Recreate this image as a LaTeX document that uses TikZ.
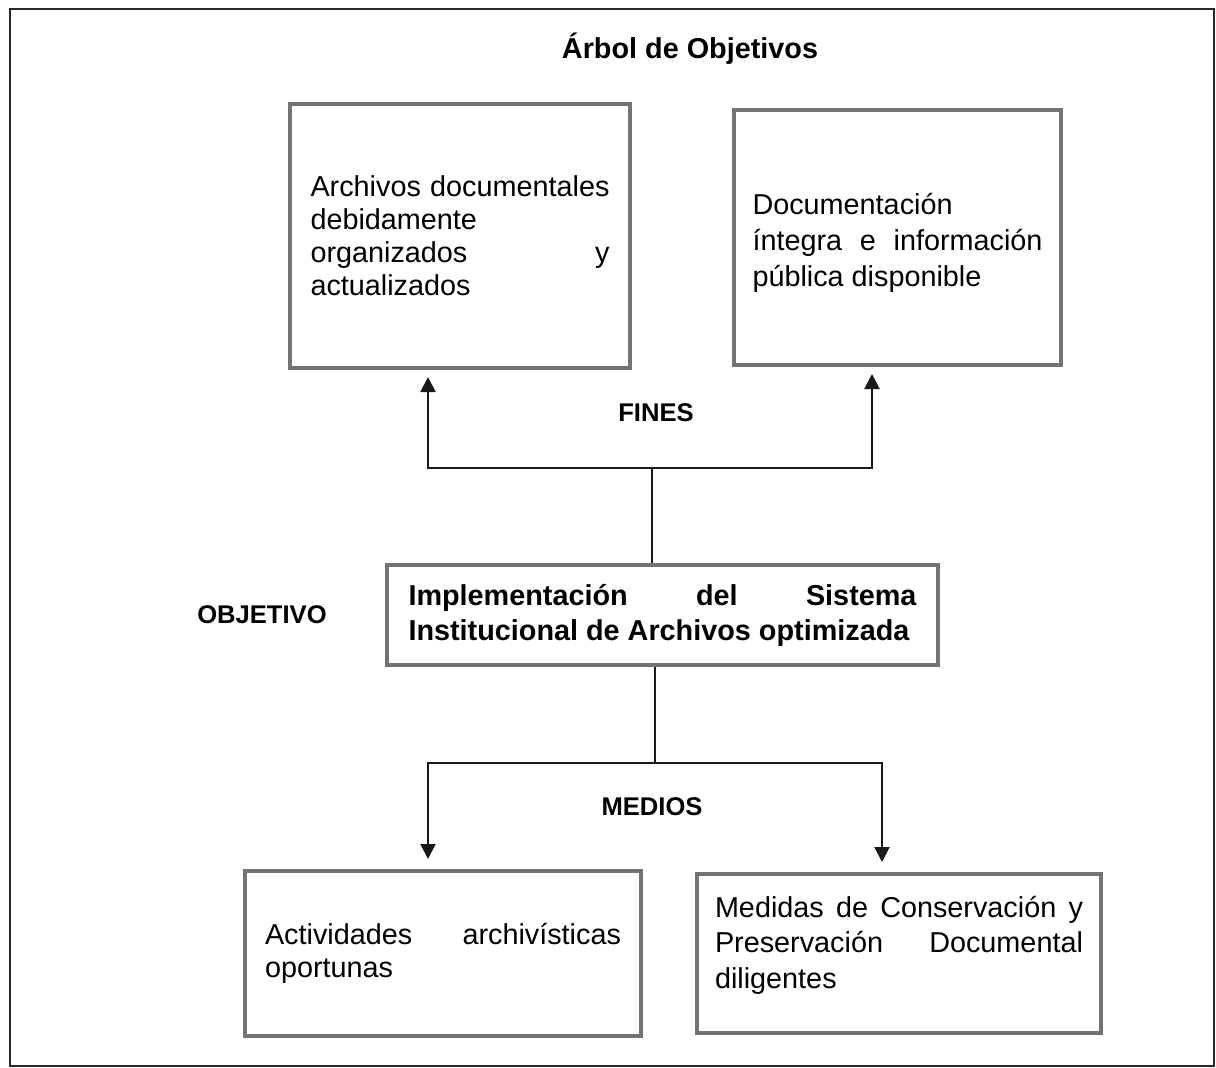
\documentclass[tikz,border=0pt]{standalone}
\usepackage{fontspec}
\setmainfont{Liberation Sans}
\usetikzlibrary{arrows.meta}
\hyphenpenalty=10000
\exhyphenpenalty=10000
\definecolor{boxgray}{RGB}{115,115,115}
\definecolor{framegray}{RGB}{40,40,40}
\tikzset{
  box/.style={draw=boxgray, line width=4pt, inner sep=0pt, align=justify,
    font=\fontsize{28.8}{33}\selectfont},
  conn/.style={draw=black!90, line width=2pt},
  arr/.style={conn, -{Triangle[length=15pt, width=15pt]}},
  lbl/.style={font=\bfseries\fontsize{25.6}{30}\selectfont, inner sep=0pt, anchor=base},
}
\begin{document}
\begin{tikzpicture}[x=1pt, y=-1pt]
\useasboundingbox (0,0) rectangle (1216,1068);
\draw[draw=framegray, line width=2pt] (10,9) rectangle (1214,1066);

\node[lbl, font=\bfseries\fontsize{28.8}{33}\selectfont] (title) at (690,58) {Árbol de Objetivos};

\node[box, minimum width=340pt, minimum height=264pt, text width=299pt] (A) at (460,236)
  {Archivos documentales\linebreak debidamente\\ organizados y\linebreak actualizados};
\node[box, minimum width=327pt, minimum height=255pt, text width=290pt,
  font=\fontsize{28.8}{36}\selectfont, text height=22pt, text depth=69pt] (B) at (897.5,237.5)
  {Documentación\\ íntegra e información\linebreak pública disponible};
\node[box, minimum width=551pt, minimum height=100pt, text width=508pt,
  font=\bfseries\fontsize{28.8}{35}\selectfont] (O) at (662.5,615)
  {Implementación del Sistema\linebreak Institucional de Archivos optimizada};
\node[box, minimum width=396pt, minimum height=165pt, text width=356pt] (C) at (443,953.5)
  {Actividades archivísticas\linebreak oportunas};
\node[box, minimum width=404pt, minimum height=159pt, text width=368pt,
  font=\fontsize{28.8}{35.5}\selectfont, text height=22pt, text depth=95pt] (D) at (899,953.5)
  {Medidas de Conservación y\linebreak Preservación Documental\linebreak diligentes};

\node[lbl] (fines) at (656,421) {FINES};
\node[lbl] (objetivo) at (262,623) {OBJETIVO};
\node[lbl] (medios) at (652,815) {MEDIOS};

\coordinate (fL) at (428,468);
\coordinate (fR) at (872,468);
\coordinate (mL) at (428,763);
\coordinate (mR) at (882,763);

\draw[conn] ([xshift=-10.5pt]O.north) -- ([xshift=-10.5pt]O.north |- fL);
\draw[conn, line cap=rect] (fL) -- (fR);
\draw[arr, shorten >=7pt] (fL) -- (fL |- A.south);
\draw[arr, shorten >=7pt] (fR) -- (fR |- B.south);

\draw[conn] ([xshift=-7.5pt]O.south) -- ([xshift=-7.5pt]O.south |- mL);
\draw[conn, line cap=rect] (mL) -- (mR);
\draw[arr, shorten >=10pt] (mL) -- (mL |- C.north);
\draw[arr, shorten >=10pt] (mR) -- (mR |- D.north);
\end{tikzpicture}
\end{document}
